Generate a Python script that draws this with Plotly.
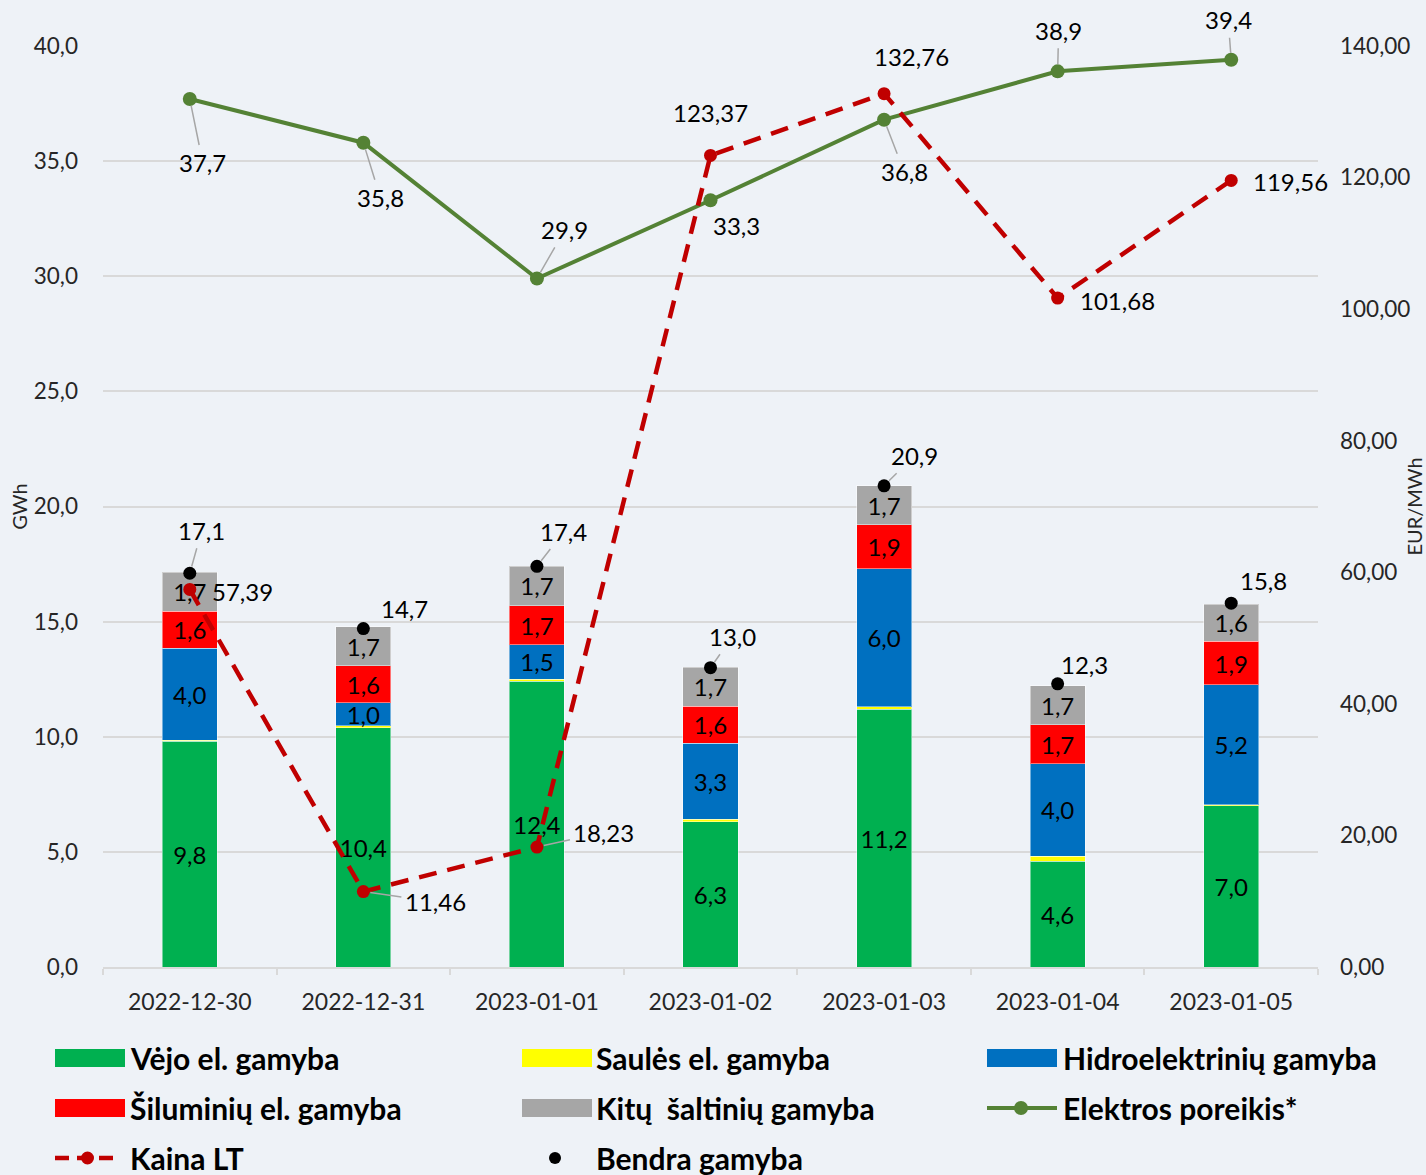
import plotly.graph_objects as go

# ---------------- data ----------------
dates = ["2022-12-30", "2022-12-31", "2023-01-01", "2023-01-02",
         "2023-01-03", "2023-01-04", "2023-01-05"]
wind = [9.8, 10.4, 12.4, 6.3, 11.2, 4.6, 7.0]
solar = [0.05, 0.08, 0.1, 0.12, 0.1, 0.22, 0.05]
hydro = [4.0, 1.0, 1.5, 3.3, 6.0, 4.0, 5.2]
thermal = [1.6, 1.6, 1.7, 1.6, 1.9, 1.7, 1.9]
other = [1.7, 1.7, 1.7, 1.7, 1.7, 1.7, 1.6]
demand = [37.7, 35.8, 29.9, 33.3, 36.8, 38.9, 39.4]
price = [57.39, 11.46, 18.23, 123.37, 132.76, 101.68, 119.56]
total = [17.1, 14.7, 17.4, 13.0, 20.9, 12.3, 15.8]

names = ["Vėjo el. gamyba", "Saulės el. gamyba", "Hidroelektrinių gamyba",
         "Šiluminių el. gamyba", "Kitų  šaltinių gamyba", "Elektros poreikis*",
         "Kaina LT", "Bendra gamyba"]

# ---------------- styling ----------------
FONT = "Lato"
BG = "#eef2f7"
C_WIND, C_SOLAR, C_HYDRO, C_THERM, C_OTHER = "#00b050", "#ffff00", "#0070c0", "#ff0000", "#a6a6a6"
C_DEM, C_PRICE = "#548235", "#c00000"
W, H = 1426, 1175
L, R, T, B = 103, 108, 46, 208
PW, PH = W - L - R, H - T - B


def px2x(px):
    return (px - L) / PW


def px2y(py):
    return (H - B - py) / PH


def c1(v):
    return f"{v:.1f}".replace(".", ",")


def c2(v):
    return f"{v:.2f}".replace(".", ",")


fig = go.Figure()

bar_series = [(wind, C_WIND, True), (solar, C_SOLAR, False), (hydro, C_HYDRO, True),
              (thermal, C_THERM, True), (other, C_OTHER, True)]
for i, (vals, col, lab) in enumerate(bar_series):
    fig.add_trace(go.Bar(
        x=dates, y=vals, name=names[i], marker=dict(color=col, line=dict(color="rgba(255,255,255,0.45)", width=1)),
        text=[c1(v) for v in vals] if lab else None,
        textposition="inside" if lab else "none", insidetextanchor="middle", textangle=0,
        textfont=dict(size=24, color="#000000", family=FONT),
        width=0.317, showlegend=False, hoverinfo="skip"))

fig.add_trace(go.Scatter(
    x=dates, y=demand, name=names[5], mode="lines+markers",
    line=dict(color=C_DEM, width=4), marker=dict(size=14, color=C_DEM),
    showlegend=False))
fig.add_trace(go.Scatter(
    x=dates, y=total, name=names[7], mode="markers",
    marker=dict(size=13, color="#000000"), showlegend=False))
fig.add_trace(go.Scatter(
    x=dates, y=price, name=names[6], mode="lines+markers", yaxis="y2",
    line=dict(color=C_PRICE, width=4.5, dash="18px,11px"), marker=dict(size=13, color=C_PRICE),
    showlegend=False))

annotations = []
LBL = dict(size=24, color="#000000", family=FONT)
LEAD = "#a6a6a6"


def lab(x, y, text, dx, dy, leader, yref="y"):
    if leader:
        annotations.append(dict(x=x, y=y, xref="x", yref=yref, text=text, showarrow=True,
                                ax=dx, ay=dy, arrowhead=0, arrowwidth=1.5, arrowcolor=LEAD,
                                standoff=7, startstandoff=2, font=LBL))
    else:
        annotations.append(dict(x=x, y=y, xref="x", yref=yref, text=text, showarrow=False,
                                xshift=dx, yshift=-dy, font=LBL))


tot_off = [(12, -43, True), (41, -20, False), (27, -35, True), (22, -31, True),
           (30, -30, True), (27, -19, False), (32, -23, False)]
for d, v, (dx, dy, ld) in zip(dates, total, tot_off):
    lab(d, v, c1(v), dx, dy, ld)

price_off = [(53, 2, False), (72, 10, True), (67, -15, True), (0, -43, False),
             (27, -37, False), (60, 2, False), (59, 1, False)]
for d, v, (dx, dy, ld) in zip(dates, price, price_off):
    lab(d, v, c2(v), dx, dy, ld, yref="y2")

dem_off = [(13, 64, True), (17, 55, True), (28, -49, True), (26, 25, False),
           (20, 52, True), (1, -41, True), (-3, -40, True)]
for d, v, (dx, dy, ld) in zip(dates, demand, dem_off):
    lab(d, v, c1(v), dx, dy, ld)

# ---------------- custom legend ----------------
shapes = []
LEGF = dict(size=30, color="#000000", family=FONT)
rows = [1058, 1108, 1158]
cols = [(55, 128), (522, 594), (987, 1061)]
rect_items = [(0, 0, C_WIND), (0, 1, C_SOLAR), (0, 2, C_HYDRO),
              (1, 0, C_THERM), (1, 1, C_OTHER)]
for r, c, col in rect_items:
    x0 = cols[c][0]
    y = rows[r]
    shapes.append(dict(type="rect", xref="paper", yref="paper",
                       x0=px2x(x0), x1=px2x(x0 + 70), y0=px2y(y - 9), y1=px2y(y + 9),
                       fillcolor=col, line=dict(width=0)))
legend_text = [(0, 0, names[0]), (0, 1, names[1]), (0, 2, names[2]),
               (1, 0, names[3]), (1, 1, names[4]), (1, 2, names[5]),
               (2, 0, names[6]), (2, 1, names[7])]
for r, c, nm in legend_text:
    annotations.append(dict(x=px2x(cols[c][1]), y=px2y(rows[r]), xref="paper", yref="paper",
                            text="<b>" + nm + "</b>", showarrow=False, xanchor="left",
                            yanchor="middle", font=LEGF))
# demand line icon
shapes.append(dict(type="line", xref="paper", yref="paper", x0=px2x(987), x1=px2x(1057),
                   y0=px2y(1108), y1=px2y(1108), line=dict(color=C_DEM, width=4)))
shapes.append(dict(type="circle", xref="paper", yref="paper", x0=px2x(1014), x1=px2x(1028),
                   y0=px2y(1101), y1=px2y(1115), fillcolor=C_DEM, line=dict(width=0)))
# price line icon
shapes.append(dict(type="line", xref="paper", yref="paper", x0=px2x(55), x1=px2x(121),
                   y0=px2y(1158), y1=px2y(1158), line=dict(color=C_PRICE, width=4.5, dash="14px,8px")))
shapes.append(dict(type="circle", xref="paper", yref="paper", x0=px2x(81), x1=px2x(94),
                   y0=px2y(1151.5), y1=px2y(1164.5), fillcolor=C_PRICE, line=dict(width=0)))
# total dot icon
shapes.append(dict(type="circle", xref="paper", yref="paper", x0=px2x(549), x1=px2x(561),
                   y0=px2y(1152), y1=px2y(1164), fillcolor="#000000", line=dict(width=0)))

fig.update_layout(
    width=W, height=H, barmode="stack",
    paper_bgcolor=BG, plot_bgcolor=BG,
    margin=dict(l=L, r=R, t=T, b=B, autoexpand=False),
    separators=", ",
    font=dict(family=FONT, size=22, color="#262626"),
    showlegend=False,
    uniformtext=dict(minsize=24, mode="show"),
    annotations=annotations, shapes=shapes,
    xaxis=dict(type="category", range=[-0.5, 6.5], autorange=False, showgrid=False,
               showline=True, linecolor="#d9d9d9", linewidth=2,
               ticks="outside", tickson="boundaries", ticklen=6, tickcolor="#d9d9d9", tickwidth=2,
               tickfont=dict(size=23, color="#262626"), ticklabelstandoff=13),
    yaxis=dict(range=[0, 40], dtick=5, tickformat=".1f", showgrid=True, gridcolor="#d9d9d9",
               gridwidth=2, zeroline=False, showline=False, ticks="", ticklabelstandoff=24,
               tickfont=dict(size=22.5, color="#262626"),
               title=dict(text="GWh", font=dict(size=20, color="#262626"), standoff=0)),
    yaxis2=dict(range=[0, 140], dtick=20, tickformat=".2f", overlaying="y", side="right",
                showgrid=False, zeroline=False, showline=False, ticks="", ticklabelstandoff=21,
                tickfont=dict(size=22.5, color="#262626"),
                title=dict(text="EUR/MWh", font=dict(size=20, color="#262626"), standoff=2)),
)

fig.write_html("out.html", config={"displayModeBar": False},
               post_script="document.body.style.margin='0';document.body.style.background='" + BG + "';")
